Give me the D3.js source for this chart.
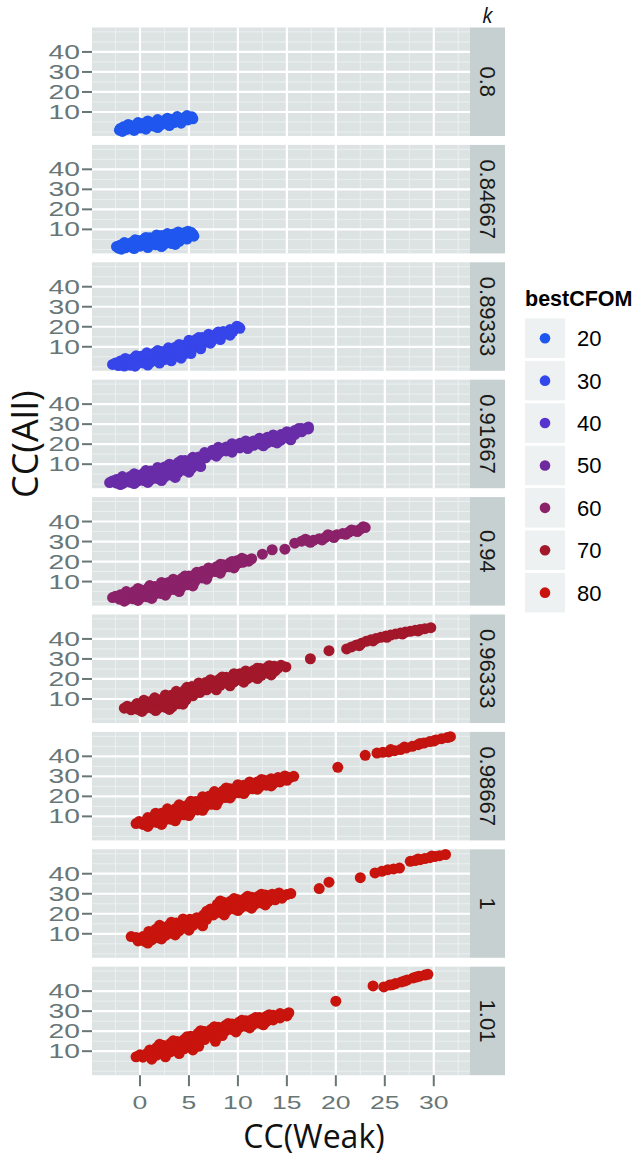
<!DOCTYPE html>
<html>
<head>
<meta charset="utf-8">
<script src="https://cdn.jsdelivr.net/npm/d3@7"></script>
<style>
body { margin: 0; background: #fff; }
</style>
</head>
<body>
<script>
// facet labels (k) and colour value per facet
var kLabels = ["0.8", "0.84667", "0.89333", "0.91667", "0.94", "0.96333", "0.98667", "1", "1.01"];
var panelCFOM = [20, 20, 31, 48, 60, 70, 79, 80, 80];

var xBreaks = [0, 5, 10, 15, 20, 25, 30];
var xMinor = [-2.5, 2.5, 7.5, 12.5, 17.5, 22.5, 27.5, 32.5];
var yBreaks = [10, 20, 30, 40];
var yMinor = [0, 5, 15, 25, 35, 45, 50];

var legendValues = [20, 30, 40, 50, 60, 70, 80];
var legendColors = ["#1f56ee", "#3247ec", "#5633cf", "#6e2a9e", "#8b2169", "#a3172b", "#c8140c"];

// CC(Weak), CC(All)
var pts0800 = [[-2.1,0.9],[-1.4,1.2],[-0.7,1.6],[0,2.0],[0.7,2.5],[1.4,3.0],[2.1,3.5],[2.8,4.1],[3.5,4.7],[4.2,5.3],[4.9,6.0],[5.4,6.6],
  [-2.0,1.8],[-1.3,2.2],[-0.6,2.7],[0.1,3.1],[0.8,3.6],[1.5,4.1],[2.2,4.6],[2.9,5.1],[3.6,5.6],[4.3,6.2],[5.0,6.9],
  [-1.7,2.6],[-1.0,3.3],[-0.3,3.9],[0.4,4.4],[1.1,4.8],[1.8,5.3],[2.5,5.8],[3.2,6.3],[3.9,6.9],[4.6,7.4],[5.3,7.6],
  [-1.2,3.8],[-0.2,4.7],[0.8,5.5],[1.8,6.2],[2.8,6.9],[3.8,7.7],[4.8,8.2],
  [-1.8,0.3],[-0.6,0.8],[0.6,1.4],[1.8,2.2],[3.0,3.2],[4.2,4.4]];
var pts0847 = [[-2.2,0.6],[-1.5,0.8],[-0.8,1.2],[0,1.6],[0.8,2.0],[1.6,2.3],[2.4,2.3],[3.2,3.0],[4.0,4.0],[4.8,5.2],[5.5,6.6],
  [-2.4,1.4],[-1.8,1.6],[-1.2,2.0],[-0.6,2.6],[0,3.2],[0.6,3.7],[1.2,4.1],[1.8,4.6],[2.4,4.9],[3.0,5.5],[3.6,6.0],[4.2,6.5],[4.8,7.2],[5.4,7.6],
  [-2.0,2.2],[-1.4,2.9],[-0.8,3.6],[-0.2,4.4],[0.4,5.1],[1.0,5.8],[1.6,6.4],[2.2,6.9],[2.8,7.3],[3.4,7.7],[4.0,8.1],[4.6,8.4],[5.2,8.6],
  [-1.6,3.4],[-0.5,4.8],[0.6,6.0],[1.7,7.2],[2.8,7.9],[3.9,8.7],[4.9,9.1],
  [-1.9,0.1],[-0.6,0.4],[0.8,0.9],[2.2,1.4],[3.6,2.5]];
var pts0893 = [[-2.8,1.2],[-2.2,0.6],[-1.6,0.4],[-1.0,0.8],[-0.3,1.3],[0.4,1.9],[1.1,2.4],[1.8,3.0],[2.5,3.6],[3.2,4.3],[3.9,5.2],[4.6,6.6],[5.3,8.8],[6.0,10.6],[6.7,12.2],[7.4,13.3],[8.1,14.8],[8.8,16.4],[9.5,17.7],[10.2,19.2],
  [-2.5,1.9],[-1.8,2.2],[-1.1,2.7],[-0.4,3.2],[0.3,3.9],[1.0,4.4],[1.7,5.0],[2.4,5.6],[3.1,6.4],[3.8,7.4],[4.5,8.6],[5.2,10.4],[5.9,12.0],[6.6,13.1],[7.3,14.2],[8.0,15.6],[8.7,17.0],[9.4,18.2],[10.1,19.7],
  [-2.0,2.9],[-1.3,3.6],[-0.6,4.4],[0.1,5.3],[0.8,6.3],[1.5,7.0],[2.2,7.6],[2.9,8.6],[3.6,9.8],[4.3,10.8],[5.0,12.4],[5.7,13.6],[6.4,14.6],[7.1,15.5],[7.8,16.4],[8.5,17.6],[9.2,18.6],[9.9,20.3],
  [-1.5,4.2],[-0.4,5.5],[0.7,7.0],[1.8,8.1],[2.9,9.5],[4.0,11.2],[5.0,13.2],[6.0,14.6],[7.0,16.2],[8.0,17.4],
  [-0.5,0.3],[0.8,0.9],[2.0,1.9],[3.2,3.0],[4.2,4.3],[5.2,6.6],[6.2,9.0],[7.2,11.8],[8.2,13.6],[9.2,15.8]];
var pts0917 = [[-3.1,0.8],[-2.4,0.6],[-1.7,0.5],[-1.0,1.0],[-0.3,1.4],[0.4,1.8],[1.1,2.3],[1.8,2.8],[2.5,3.5],[3.2,4.5],[3.9,5.8],[4.6,7.0],[5.3,8.0],[6.0,9.6],[6.7,13.2],[7.4,15.0],[8.1,15.8],[8.8,16.6],[9.5,17.4],[10.2,18.1],[10.9,18.8],[11.6,19.4],[12.3,20.0],[13.0,20.6],[13.7,21.2],[14.4,22.0],[15.1,23.2],[15.8,24.8],[16.5,26.2],[17.2,27.6],
  [-2.8,1.6],[-2.1,2.1],[-1.4,2.6],[-0.7,3.1],[0,3.6],[0.7,4.1],[1.4,4.8],[2.1,5.5],[2.8,6.4],[3.5,7.6],[4.2,8.6],[4.9,9.4],[5.6,10.6],[6.3,12.4],[7.0,14.8],[7.7,16.4],[8.4,17.0],[9.1,17.9],[9.8,18.8],[10.5,19.6],[11.2,20.4],[11.9,21.1],[12.6,21.9],[13.3,22.6],[14.0,23.3],[14.7,24.2],[15.4,25.2],[16.1,26.3],[16.8,27.4],
  [-2.4,2.4],[-1.7,3.1],[-1.0,3.8],[-0.3,4.6],[0.4,5.6],[1.1,6.6],[1.8,7.6],[2.5,8.6],[3.2,9.6],[3.9,10.8],[4.6,11.8],[5.3,12.8],[6.0,13.6],[6.7,15.2],[7.4,17.0],[8.1,17.6],[8.8,18.6],[9.5,19.6],[10.2,20.4],[10.9,20.8],[11.6,21.6],[12.3,22.6],[13.0,23.4],[13.7,24.2],[14.4,24.8],[15.1,25.8],[15.8,26.8],[16.5,27.8],[17.2,28.6],
  [-1.8,3.8],[-0.6,5.2],[0.6,6.8],[1.8,8.4],[3.0,10.0],[4.2,11.8],[5.4,13.4],[6.6,15.8],[8.0,18.4],[9.4,20.2],[10.8,21.6],[12.2,23.0],[13.6,24.6],[15.0,26.2],[16.2,27.8],
  [-2.0,-0.2],[-0.6,0.3],[0.8,0.9],[2.2,1.8],[3.6,3.4],[5.0,6.0],[6.2,8.8],[7.8,14.0],[9.4,16.0],[11.0,17.8],[12.6,19.2],[14.0,20.6],[15.4,22.2]];
var pts0940 = [[-2.8,2.0],[-2.1,1.2],[-1.4,1.0],[-0.7,1.4],[0,1.8],[0.7,2.4],[1.4,3.2],[2.1,4.1],[2.8,5.0],[3.5,6.0],[4.2,7.0],[4.9,8.4],[5.6,10.0],[6.3,11.8],[7.0,13.6],[7.7,15.0],[8.4,16.2],[9.1,17.4],[9.8,18.6],[10.5,19.6],[11.1,20.2],
  [-2.5,2.7],[-1.8,2.6],[-1.1,2.9],[-0.4,3.4],[0.3,4.0],[1.0,4.8],[1.7,5.6],[2.4,6.6],[3.1,7.6],[3.8,8.6],[4.5,9.8],[5.2,11.2],[5.9,12.6],[6.6,14.0],[7.3,15.4],[8.0,16.6],[8.7,17.6],[9.4,18.5],[10.1,19.4],[10.8,20.6],
  [-2.0,3.4],[-1.3,4.2],[-0.6,5.0],[0.1,5.8],[0.8,6.6],[1.5,7.6],[2.2,8.6],[2.9,9.6],[3.6,10.6],[4.3,11.6],[5.0,12.8],[5.7,14.0],[6.4,15.2],[7.1,16.4],[7.8,17.4],[8.5,18.4],[9.2,19.4],[9.9,20.4],[10.6,21.2],
  [-1.4,5.0],[-0.2,6.6],[1.0,8.0],[2.2,9.6],[3.4,11.2],[4.6,12.8],[5.8,14.6],[7.0,16.8],[8.2,18.6],[9.4,20.0],[10.4,21.6],
  [-1.6,0.2],[-0.2,0.6],[1.2,1.6],[2.6,3.2],[4.0,5.0],[5.4,7.8],[6.8,11.2],[8.2,14.2],[9.6,16.8],
  [11.4,21.4],[12.5,23.7],[13.5,25.9],[14.8,26.2],[15.8,29.2],
  [16.5,30.2],[17.1,30.5],[17.7,30.6],[18.3,31.4],[18.9,32.0],[19.5,32.8],[20.1,33.4],[20.7,34.0],[21.3,34.6],[21.9,35.4],[22.5,36.2],[23.0,37.0],
  [17.4,29.6],[18.6,30.8],[19.8,32.0],[21.0,33.6],[22.2,35.0],[16.9,31.2],[19.2,33.4],[21.6,35.8],[22.8,37.4]];
var pts0963 = [[-1.6,5.4],[-0.9,4.6],[-0.2,4.8],[0.5,5.2],[1.2,5.4],[1.9,5.6],[2.6,5.8],[3.3,6.0],[4.0,7.6],[4.7,9.6],[5.4,11.6],[6.1,13.2],[6.8,14.6],[7.5,15.8],[8.2,16.8],[8.9,17.8],[9.6,18.6],[10.3,19.4],[11.0,20.2],[11.7,21.0],[12.4,21.8],[13.1,22.8],[13.8,24.0],
  [-1.3,6.4],[-0.6,6.2],[0.1,6.6],[0.8,7.0],[1.5,7.6],[2.2,8.4],[2.9,9.2],[3.6,10.2],[4.3,11.6],[5.0,13.0],[5.7,14.4],[6.4,15.6],[7.1,16.8],[7.8,17.8],[8.5,18.8],[9.2,19.6],[9.9,20.4],[10.6,21.4],[11.3,22.2],[12.0,23.0],[12.7,23.8],[13.4,24.6],[14.1,25.4],[14.9,26.0],
  [-0.3,7.8],[0.4,8.2],[1.1,8.8],[1.8,9.8],[2.5,10.8],[3.2,11.8],[3.9,13.0],[4.6,14.6],[5.3,16.2],[6.0,17.2],[6.7,18.2],[7.4,19.0],[8.1,19.8],[8.8,20.8],[9.5,21.6],[10.2,22.6],[10.9,23.4],[11.6,24.2],[12.3,25.2],[13.0,25.8],[13.7,26.4],[14.4,26.8],
  [0.4,9.4],[1.5,10.6],[2.6,12.0],[3.7,13.8],[4.8,15.8],[6.0,18.0],[7.2,19.6],[8.4,21.0],[9.6,22.6],[10.8,24.0],[12.0,25.4],[13.2,26.6],
  [0.2,3.8],[1.6,4.2],[3.0,4.8],[4.4,7.4],[7.8,14.6],[9.2,16.6],[10.6,18.4],[12.0,20.2],[13.4,22.0],
  [17.4,30.1],[19.3,34.1],
  [21.1,35.0],[21.6,36.0],[22.1,37.0],[22.6,37.8],[23.1,38.8],[23.6,39.6],[24.1,40.2],[24.6,40.8],[25.1,41.4],[25.6,41.9],[26.1,42.4],[26.6,42.9],[27.1,43.4],[27.6,43.8],[28.1,44.3],[28.6,44.7],[29.1,45.1],[29.7,45.6],
  [22.4,36.6],[23.8,39.0],[25.2,40.8],[26.8,42.4],[28.4,44.0]];
var pts0987 = [[-0.4,6.4],[0.3,6.0],[1.0,6.4],[1.7,7.0],[2.4,7.6],[3.1,8.6],[3.8,9.6],[4.5,10.8],[5.2,12.0],[5.9,13.2],[6.6,14.6],[7.3,16.0],[8.0,17.6],[8.7,19.4],[9.4,20.8],[10.1,21.8],[10.8,22.8],[11.5,23.8],[12.2,24.8],[12.9,25.6],[13.6,26.4],[14.3,27.2],[15.0,28.0],
  [-0.1,7.4],[0.6,7.8],[1.3,8.6],[2.0,9.4],[2.7,10.2],[3.4,11.0],[4.1,12.0],[4.8,13.2],[5.5,14.4],[6.2,15.6],[6.9,17.0],[7.6,18.6],[8.3,20.0],[9.0,21.4],[9.7,22.6],[10.4,23.6],[11.1,24.4],[11.8,25.4],[12.5,26.4],[13.2,27.2],[13.9,28.0],[14.6,28.8],[15.3,29.4],[15.7,30.0],
  [0.8,9.4],[1.5,10.4],[2.2,11.6],[2.9,12.8],[3.6,13.8],[4.3,15.0],[5.0,16.2],[5.7,17.4],[6.4,18.8],[7.1,20.2],[7.8,21.6],[8.5,22.8],[9.2,23.8],[9.9,24.8],[10.6,25.6],[11.3,26.4],[12.0,27.2],[12.7,28.0],[13.4,28.8],[14.1,29.4],[14.8,30.2],
  [1.6,11.6],[2.8,13.8],[4.0,15.8],[5.2,17.6],[6.4,19.8],[7.6,22.4],[8.8,24.2],[10.0,25.8],[11.2,27.2],[12.4,28.4],
  [0.8,5.0],[2.2,6.0],[3.6,7.8],[5.0,10.4],[6.4,13.0],[7.8,15.8],[9.2,19.2],[10.6,21.4],[12.0,23.6],[13.4,25.2],
  [20.2,34.5],[23.0,40.5],
  [24.2,41.6],[24.8,42.0],[25.4,42.2],[26.0,42.8],[26.6,43.4],[27.2,44.2],[27.8,45.0],[28.4,45.8],[29.0,46.6],[29.6,47.4],[30.2,48.2],[30.8,48.8],[31.4,49.4],[31.7,49.8],
  [25.6,43.4],[27.0,44.6],[28.6,46.4],[30.0,47.6]];
var pts1000 = [[-0.9,8.6],[-0.2,6.4],[0.5,6.2],[1.2,7.0],[1.9,8.0],[2.6,9.2],[3.3,10.2],[4.0,11.4],[4.7,12.8],[5.4,14.2],[6.1,15.2],[6.8,17.2],[7.5,19.4],[8.2,20.6],[8.9,21.6],[9.6,22.4],[10.3,23.0],[11.0,23.8],[11.7,24.6],[12.4,25.4],[13.1,26.2],[13.8,27.0],[14.5,27.8],
  [-0.4,8.2],[0.3,8.6],[1.0,9.4],[1.7,10.4],[2.4,11.4],[3.1,12.4],[3.8,13.4],[4.5,14.6],[5.2,15.8],[5.9,16.8],[6.6,18.4],[7.3,20.6],[8.0,22.4],[8.7,23.4],[9.4,24.2],[10.1,25.0],[10.8,25.8],[11.5,26.4],[12.2,27.2],[12.9,27.8],[13.6,28.4],[14.3,29.0],[15.0,29.6],[15.4,30.1],
  [0.9,11.2],[1.6,12.2],[2.3,13.4],[3.0,14.4],[3.7,15.4],[4.4,16.4],[5.1,17.2],[5.8,18.0],[6.5,19.4],[7.2,22.4],[7.9,24.8],[8.6,25.6],[9.3,26.4],[10.0,27.0],[10.7,27.6],[11.4,28.2],[12.1,28.8],[12.8,29.4],[13.5,29.8],[14.2,30.4],
  [2.0,14.2],[3.2,15.8],[4.4,17.4],[6.8,21.2],[8.2,26.4],[9.6,27.6],[11.0,28.8],[12.4,29.8],
  [0.8,5.4],[2.2,7.4],[3.6,9.4],[5.0,11.8],[6.4,14.0],[8.6,19.4],[10.0,21.6],[11.4,22.8],[12.8,24.4]];
var pts1000b = [[18.3,32.6],[19.3,35.8],[22.5,38.0],
  [24.0,40.4],[24.7,41.2],[25.3,42.0],[25.9,42.4],[26.5,42.8],
  [27.6,46.2],[28.1,46.6],[28.6,47.0],[29.1,47.6],[29.6,48.0],[30.1,48.6],[30.6,49.0],[31.2,49.6],[28.4,47.4],[29.8,48.8]];
var pts1010 = [[-0.4,7.2],[0.3,7.0],[1.0,7.4],[1.7,8.0],[2.4,8.8],[3.1,9.6],[3.8,10.4],[4.5,11.2],[5.2,12.2],[5.9,13.6],[6.6,15.8],[7.3,17.8],[8.0,19.0],[8.7,20.0],[9.4,20.8],[10.1,21.6],[10.8,22.4],[11.5,23.2],[12.2,24.0],[12.9,24.8],[13.6,25.6],[14.3,26.6],[15.0,27.6],
  [0.0,8.2],[0.7,8.8],[1.4,9.6],[2.1,10.2],[2.8,11.0],[3.5,11.8],[4.2,12.8],[4.9,14.0],[5.6,15.4],[6.3,17.0],[7.0,18.6],[7.7,20.0],[8.4,21.0],[9.1,21.8],[9.8,22.6],[10.5,23.4],[11.2,24.2],[11.9,25.0],[12.6,25.8],[13.3,26.6],[14.0,27.4],[14.7,28.2],[15.2,29.2],
  [1.0,10.6],[1.7,11.8],[2.4,12.8],[3.1,13.8],[3.8,14.8],[4.5,15.8],[5.2,17.4],[5.9,18.8],[6.6,19.8],[7.3,21.0],[8.0,22.0],[8.7,22.8],[9.4,23.6],[10.1,24.4],[10.8,25.2],[11.5,26.0],[12.2,26.8],[12.9,27.4],[13.6,28.0],[14.3,28.8],
  [2.0,13.4],[3.4,15.2],[4.8,17.2],[6.2,20.2],[7.6,22.2],[9.0,23.8],[10.4,25.4],[11.8,26.8],[13.2,28.2],
  [1.2,6.0],[2.6,7.2],[4.0,8.8],[5.4,10.6],[6.0,12.4],[8.4,17.8],[9.8,19.6],[11.2,21.6],[12.6,23.2],
  [7.7,14.9],[20.0,35.0],
  [23.8,42.6],[24.9,42.1],[25.5,43.0],[26.1,43.8],[26.7,44.6],[27.3,45.6],[27.9,46.6],[28.5,47.4],[29.1,48.0],[29.4,48.4],[25.8,43.2],[27.0,45.0],[28.2,47.0]];

var panelPoints = [pts0800, pts0847, pts0893, pts0917, pts0940, pts0963, pts0987, pts1000.concat(pts1000b), pts1010];

var width = 640, height = 1157;
var panelLeft = 92, panelRight = 470, stripW = 35;
var firstTop = 27.5, panelH = 108.5, pitch = 117.4;

var tickFont = "'Liberation Sans', Arial, sans-serif";
var titleFont = "'Open Sans', 'DejaVu Sans', sans-serif";
var tickCol = "#687676";

var svg = d3.select("body").append("svg")
  .attr("width", width)
  .attr("height", height);

var x = d3.scaleLinear().domain([-4.9, 33.7]).range([panelLeft, panelRight]);
var y = d3.scaleLinear().domain([-2, 52.2]).range([panelH, 0]);

var colour = d3.scaleLinear().domain(legendValues).range(legendColors);

kLabels.forEach(function(k, i) {
  var g = svg.append("g")
    .attr("transform", "translate(0," + (firstTop + i * pitch) + ")");

  g.append("rect")
    .attr("x", panelLeft).attr("y", 0)
    .attr("width", panelRight - panelLeft).attr("height", panelH)
    .attr("fill", "#dde3e3");

  // minor grid
  g.selectAll(".vmin").data(xMinor).enter().append("line")
    .attr("x1", function(d) { return x(d); }).attr("x2", function(d) { return x(d); })
    .attr("y1", 0).attr("y2", panelH)
    .attr("stroke", "#ebefef").attr("stroke-width", 1);
  g.selectAll(".hmin").data(yMinor).enter().append("line")
    .attr("x1", panelLeft).attr("x2", panelRight)
    .attr("y1", function(d) { return y(d); }).attr("y2", function(d) { return y(d); })
    .attr("stroke", "#ebefef").attr("stroke-width", 1);

  // major grid
  g.selectAll(".vmaj").data(xBreaks).enter().append("line")
    .attr("x1", function(d) { return x(d); }).attr("x2", function(d) { return x(d); })
    .attr("y1", 0).attr("y2", panelH)
    .attr("stroke", "#ffffff").attr("stroke-width", 2.2);
  g.selectAll(".hmaj").data(yBreaks).enter().append("line")
    .attr("x1", panelLeft).attr("x2", panelRight)
    .attr("y1", function(d) { return y(d); }).attr("y2", function(d) { return y(d); })
    .attr("stroke", "#ffffff").attr("stroke-width", 2.2);

  g.selectAll("circle").data(panelPoints[i]).enter().append("circle")
    .attr("cx", function(d) { return x(d[0]); })
    .attr("cy", function(d) { return y(d[1]); })
    .attr("r", 5.5)
    .attr("fill", colour(panelCFOM[i]));

  // y axis
  g.selectAll(".yt").data(yBreaks).enter().append("line")
    .attr("x1", panelLeft - 10).attr("x2", panelLeft)
    .attr("y1", function(d) { return y(d); }).attr("y2", function(d) { return y(d); })
    .attr("stroke", tickCol).attr("stroke-width", 2);
  g.selectAll(".yl").data(yBreaks).enter().append("text")
    .attr("transform", function(d) { return "translate(80," + y(d) + ") scale(1.45,1)"; })
    .attr("dy", "0.36em")
    .attr("text-anchor", "end")
    .style("font-family", tickFont)
    .style("font-size", "19.5px")
    .attr("fill", tickCol)
    .text(function(d) { return d; });

  // strip
  g.append("rect")
    .attr("x", panelRight).attr("y", 0)
    .attr("width", stripW).attr("height", panelH)
    .attr("fill", "#c6d0d0");
  g.append("text")
    .attr("transform", "translate(" + (panelRight + stripW / 2) + "," + (panelH / 2) + ") rotate(90)")
    .attr("text-anchor", "middle")
    .attr("dy", "0.36em")
    .style("font-family", tickFont)
    .style("font-size", "22px")
    .attr("fill", "#1a1a1a")
    .text(k);
});

// x axis under last panel
var bottom = firstTop + 8 * pitch + panelH;
var xa = svg.append("g");
xa.selectAll("line").data(xBreaks).enter().append("line")
  .attr("x1", function(d) { return x(d); }).attr("x2", function(d) { return x(d); })
  .attr("y1", bottom).attr("y2", bottom + 11)
  .attr("stroke", tickCol).attr("stroke-width", 2);
xa.selectAll("text").data(xBreaks).enter().append("text")
  .attr("transform", function(d) { return "translate(" + x(d) + "," + (bottom + 34) + ") scale(1.4,1)"; })
  .attr("text-anchor", "middle")
  .style("font-family", tickFont)
  .style("font-size", "19px")
  .attr("fill", tickCol)
  .text(function(d) { return d; });

svg.append("text")
  .attr("x", 314).attr("y", 1148)
  .attr("text-anchor", "middle")
  .style("font-family", titleFont)
  .style("font-size", "32px")
  .attr("fill", "#111")
  .text("CC(Weak)");

svg.append("text")
  .attr("transform", "translate(38,498) rotate(-90)")
  .attr("text-anchor", "start")
  .style("font-family", titleFont)
  .style("font-size", "36px")
  .attr("fill", "#111")
  .text("CC(All)");

svg.append("text")
  .attr("x", panelRight + stripW / 2).attr("y", 23)
  .attr("text-anchor", "middle")
  .style("font-family", titleFont)
  .style("font-style", "italic")
  .style("font-size", "21px")
  .attr("fill", "#111")
  .text("k");

// legend
var legend = svg.append("g").attr("transform", "translate(525,0)");
legend.append("text")
  .attr("x", 0).attr("y", 306)
  .style("font-family", tickFont)
  .style("font-weight", "bold")
  .style("font-size", "21.5px")
  .attr("fill", "#000")
  .text("bestCFOM");
var keys = legend.selectAll(".key").data(legendValues).enter().append("g")
  .attr("transform", function(d, i) { return "translate(0," + (318.5 + i * 42.4) + ")"; });
keys.append("rect")
  .attr("width", 40).attr("height", 39.5)
  .attr("fill", "#eef1f1");
keys.append("circle")
  .attr("cx", 20).attr("cy", 19.75).attr("r", 5.3)
  .attr("fill", function(d) { return colour(d); });
keys.append("text")
  .attr("x", 52).attr("y", 19.75)
  .attr("dy", "0.36em")
  .style("font-family", tickFont)
  .style("font-size", "22px")
  .attr("fill", "#000")
  .text(function(d) { return d; });
</script>
</body>
</html>
